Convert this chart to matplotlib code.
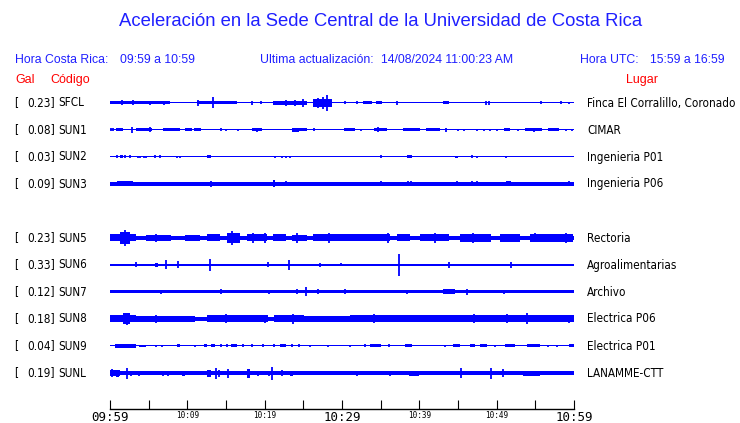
import matplotlib
matplotlib.use('Agg')
import matplotlib.pyplot as plt

# station list, top to bottom (slot 4 is left empty in the original page)
codes = ['SFCL', 'SUN1', 'SUN2', 'SUN3', 'SUN5', 'SUN6', 'SUN7', 'SUN8', 'SUN9', 'SUNL']
slots = [0, 1, 2, 3, 5, 6, 7, 8, 9, 10]
gal = [0.23, 0.08, 0.03, 0.09, 0.23, 0.33, 0.12, 0.18, 0.04, 0.19]
places = ['Finca El Corralillo, Coronado', 'CIMAR', 'Ingenieria P01', 'Ingenieria P06',
          'Rectoria', 'Agroalimentarias', 'Archivo', 'Electrica P06', 'Electrica P01', 'LANAMME-CTT']

tick_min = list(range(0, 61, 5))
tick_lab = {0: '09:59', 10: '10:09', 20: '10:19', 30: '10:29', 40: '10:39', 50: '10:49', 60: '10:59'}

# half thickness of the continuous trace (pixels)
base = [0.5, 0.5, 0.5, 1.6, 2.3, 1.3, 1.5, 2.0, 0.5, 1.6]

# bursts: (start min, end min, half amplitude px)
SFCL_BANDS = [(0.0, 7.8, 1.5), (11.2, 16.4, 1.5), (21.1, 25.5, 2.0), (26.3, 28.7, 4.0),
              (32.7, 33.9, 1.5), (34.4, 35.2, 1.5), (43.1, 43.9, 1.5)]
SUN1_BANDS = [(0.8, 1.7, 1.5), (3.4, 5.4, 1.5), (6.9, 9.1, 1.5), (9.7, 10.6, 1.5), (10.9, 11.8, 1.5),
              (18.3, 19.6, 1.5), (23.5, 24.4, 2.0), (24.4, 25.5, 1.5), (30.2, 31.7, 1.5),
              (34.1, 35.8, 1.5), (37.9, 40.1, 1.5), (40.9, 42.7, 1.5), (50.9, 51.7, 1.5),
              (53.6, 55.8, 1.5), (56.7, 58.0, 1.5)]
SUN2_BANDS = [(1.3, 1.7, 1.5), (12.6, 13.1, 1.5), (38.4, 39.0, 1.5), (44.6, 45.0, 1.0)]
SUN3_BANDS = [(0.9, 3.0, 2.5), (21.1, 21.3, 3.5), (51.2, 51.9, 2.5)]
SUN5_BANDS = [(0.0, 3.4, 3.5), (1.3, 2.6, 6.0), (4.7, 7.9, 3.0), (9.7, 11.6, 3.0), (12.5, 14.2, 3.5),
              (15.1, 16.8, 5.0), (17.7, 20.3, 3.5), (21.1, 22.8, 3.5), (23.5, 25.5, 3.0),
              (26.3, 36.2, 3.5), (37.1, 38.8, 3.5), (40.1, 43.9, 3.5), (45.2, 49.3, 4.0),
              (50.4, 53.0, 4.0), (54.3, 59.9, 4.0)]
SUN6_BANDS = [(5.8, 6.2, 2.0)]
SUN7_BANDS = [(43.1, 44.6, 2.5)]
SUN8_BANDS = [(0.0, 3.4, 3.5), (1.7, 2.6, 5.5), (3.4, 11.0, 3.0), (12.5, 20.4, 3.5), (21.2, 25.1, 3.5),
              (25.1, 31.0, 3.0), (31.0, 60.0, 3.5)]
SUN9_BANDS = [(0.6, 3.3, 1.7), (3.7, 4.7, 1.3), (8.7, 9.1, 1.5), (12.1, 12.5, 1.5), (13.0, 13.6, 1.5),
              (15.7, 16.4, 1.5), (22.0, 22.8, 1.5), (33.6, 35.1, 1.5), (38.1, 39.0, 1.5),
              (44.4, 45.3, 1.5), (46.6, 47.2, 1.5), (47.9, 48.7, 1.5), (51.1, 52.4, 1.5),
              (53.9, 55.6, 1.5), (59.3, 60.0, 1.5)]
SUNL_BANDS = [(0.0, 1.3, 3.0), (0.8, 1.1, 3.5), (9.3, 9.7, 2.5), (12.5, 13.0, 3.5), (17.7, 18.1, 4.5),
              (23.3, 23.7, 2.5), (38.7, 40.0, 2.5), (53.4, 55.6, 2.5)]

# single spikes: (minute, half amplitude px)
SFCL_SPIKES = [(1.5, 2.5), (3.0, 2.5), (5.2, 2.0), (7.0, 2.0), (11.4, 3.3), (13.3, 5.5), (18.3, 2.0),
               (19.5, 1.5), (22.8, 3.0), (23.9, 3.0), (25.0, 4.0), (26.9, 5.0), (27.6, 6.0),
               (28.1, 8.0), (30.4, 1.5), (31.9, 1.5), (37.1, 2.0), (48.6, 2.0), (49.0, 2.0),
               (55.7, 1.5), (58.3, 1.5), (59.3, 1.0)]
SUN1_SPIKES = [(0.1, 1.5), (0.4, 1.5), (2.9, 3.3), (5.2, 2.5), (14.4, 1.5), (15.0, 1.0), (16.6, 1.0),
               (19.0, 2.0), (26.4, 1.5), (30.4, 1.5), (32.5, 1.0), (34.6, 2.5), (43.5, 2.0),
               (45.0, 1.0), (45.8, 1.0), (47.4, 1.0), (48.3, 1.0), (49.2, 1.0), (50.0, 1.0),
               (52.8, 1.0), (54.8, 2.0), (59.0, 1.0), (59.7, 1.0)]
SUN2_SPIKES = [(0.9, 1.5), (1.9, 1.5), (2.6, 1.5), (3.6, 1.0), (3.9, 1.0), (4.4, 1.0), (4.7, 1.0),
               (5.8, 1.5), (6.5, 1.5), (8.7, 1.0), (9.0, 1.0), (21.3, 1.0), (22.3, 1.0), (22.7, 1.0),
               (23.3, 1.0), (35.1, 1.5), (46.8, 1.5), (47.5, 1.0), (51.2, 1.0)]
SUN3_SPIKES = [(13.1, 3.0), (22.8, 2.5), (35.1, 2.5), (38.5, 2.5), (38.9, 2.5), (44.9, 2.5),
               (46.8, 2.5), (47.5, 2.5), (59.3, 2.5)]
SUN5_SPIKES = [(2.0, 8.0), (6.0, 4.0), (15.8, 7.0), (18.5, 5.0), (20.0, 5.0), (24.2, 5.0),
               (28.3, 5.0), (36.0, 5.0), (42.0, 5.0), (47.0, 5.0), (55.0, 4.5), (59.0, 5.0)]
SUN6_SPIKES = [(3.3, 2.5), (7.2, 4.5), (8.8, 3.5), (12.9, 6.0), (20.4, 2.5), (23.1, 5.0),
               (27.1, 2.0), (29.9, 1.5), (37.4, 11.0), (43.8, 3.0), (51.8, 3.0)]
SUN7_SPIKES = [(6.6, 2.0), (14.4, 2.5), (20.5, 2.0), (24.2, 2.5), (25.4, 4.5), (26.9, 2.5),
               (30.4, 2.5), (38.4, 2.0), (46.1, 3.0), (50.9, 2.0)]
SUN8_SPIKES = [(2.2, 6.0), (6.0, 4.0), (15.0, 4.5), (20.0, 4.0), (23.7, 5.0), (34.1, 4.5),
               (47.1, 4.5), (51.3, 4.5), (53.9, 5.5), (59.3, 4.0)]
SUN9_SPIKES = [(6.0, 1.3), (6.7, 1.3), (11.0, 1.0), (14.4, 1.5), (15.1, 1.5), (17.2, 1.5),
               (18.3, 1.5), (19.8, 1.5), (21.2, 1.5), (23.5, 1.5), (24.5, 1.5), (25.9, 1.0),
               (28.2, 1.0), (31.0, 1.0), (33.0, 1.5), (36.1, 1.5), (43.3, 1.0), (49.8, 1.0),
               (56.7, 1.0), (57.8, 1.0)]
SUNL_SPIKES = [(0.3, 4.0), (2.2, 5.5), (2.7, 2.5), (3.8, 2.5), (6.9, 2.5), (7.5, 2.5), (13.7, 5.5),
               (14.1, 3.5), (15.3, 4.5), (19.2, 2.5), (20.5, 2.5), (21.0, 6.5), (22.3, 3.0),
               (31.9, 2.5), (34.1, 2.0), (36.2, 2.5), (40.4, 2.0), (45.4, 5.0), (49.3, 5.5),
               (50.8, 4.0)]

bands = [SFCL_BANDS, SUN1_BANDS, SUN2_BANDS, SUN3_BANDS, SUN5_BANDS,
         SUN6_BANDS, SUN7_BANDS, SUN8_BANDS, SUN9_BANDS, SUNL_BANDS]
spikes = [SFCL_SPIKES, SUN1_SPIKES, SUN2_SPIKES, SUN3_SPIKES, SUN5_SPIKES,
          SUN6_SPIKES, SUN7_SPIKES, SUN8_SPIKES, SUN9_SPIKES, SUNL_SPIKES]

W, H = 740, 423
BLUE = '#0000ff'
HEAD = '#1f1fff'
RED = '#ff0000'
PX = 1.0 / 27  # one pixel in slot units (slots are 27 px apart)


def fxy(x, y):
    return x / W, 1 - y / H


fig = plt.figure(figsize=(W / 100, H / 100), dpi=100)
ax = fig.add_axes([110 / W, 14 / H, 464 / W, 319 / H])

for i, s in enumerate(slots):
    b = base[i]
    ax.fill_between([0, 60], s - b * PX, s + b * PX, color=BLUE, lw=0)
    for st, en, h in bands[i]:
        ax.fill_between([st, en], s - h * PX, s + h * PX, color=BLUE, lw=0)
    for m, h in spikes[i]:
        ax.vlines(m, s - h * PX, s + h * PX, color=BLUE, lw=1.3)

ax.set_xlim(0, 60)
ax.set_ylim(11.333, -0.48)
ax.set_yticks([])
for sp in ['top', 'left', 'right']:
    ax.spines[sp].set_visible(False)
ax.spines['bottom'].set_linewidth(1.0)
ax.set_xticks(tick_min)
ax.set_xticklabels([tick_lab.get(t, '') for t in tick_min], family='DejaVu Sans Mono')
ax.tick_params(axis='x', direction='in', length=6.5, width=0.8, pad=1.5)
for t, lab in zip(tick_min, ax.get_xticklabels()):
    lab.set_fontsize(9 if t in (0, 30, 60) else 5.5)

# headers
fig.text(*fxy(381, 22), 'Aceleración en la Sede Central de la Universidad de Costa Rica',
         ha='center', va='center', color=HEAD, fontsize=13.3, family='Liberation Sans')
hdr = dict(va='center', color=HEAD, fontsize=8.8, family='Liberation Sans')
fig.text(*fxy(15, 60), 'Hora Costa Rica:', **hdr)
fig.text(*fxy(120, 60), '09:59 a 10:59', **hdr)
fig.text(*fxy(260, 60), 'Ultima actualización:', **hdr)
fig.text(*fxy(381, 60), '14/08/2024 11:00:23 AM', **hdr)
fig.text(*fxy(580, 60), 'Hora UTC:', **hdr)
fig.text(*fxy(650, 60), '15:59 a 16:59', **hdr)
red = dict(va='center', color=RED, fontsize=9, family='Liberation Sans')
fig.text(*fxy(15, 80), 'Gal', **red)
fig.text(*fxy(50, 80), 'Código', **red)
fig.text(*fxy(626, 80), 'Lugar', **red)

lab = dict(va='center', color='black', fontsize=8.4, family='DejaVu Sans', fontstretch='condensed')
for i, s in enumerate(slots):
    y = 103 + 27 * s
    fig.text(*fxy(14, y), '[', **lab)
    fig.text(*fxy(55, y), '%.2f]' % gal[i], ha='right', **lab)
    fig.text(*fxy(58, y), codes[i], **lab)
    fig.text(*fxy(587, y), places[i], **lab)

fig.savefig('out.png', dpi=100)
